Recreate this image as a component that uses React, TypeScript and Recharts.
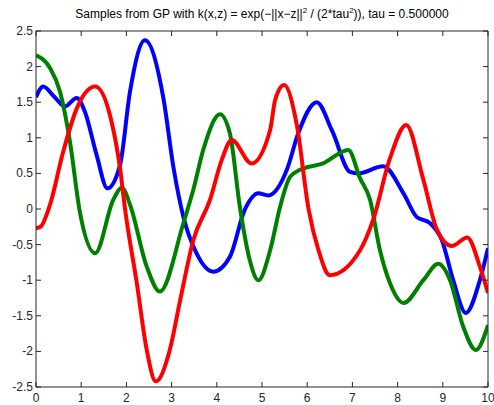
import React from 'react';
import { LineChart, Line, XAxis, YAxis } from 'recharts';

// sample paths (x, y)
const blueX = [0, 0.16, 0.4, 0.64, 0.9, 1.08, 1.34, 1.58, 1.86, 2.08, 2.41, 2.82, 3.04, 3.26, 3.55, 3.92, 4.29, 4.62, 4.92, 5.14, 5.55, 5.8, 6.21, 6.55, 6.95, 7.13, 7.68, 8.13, 8.42, 8.72, 8.98, 9.23, 9.51, 9.82, 10];
const blueY = [1.57, 1.72, 1.58, 1.44, 1.56, 1.37, 0.76, 0.29, 0.62, 1.65, 2.37, 1.55, 0.59, -0.11, -0.62, -0.88, -0.67, -0.01, 0.22, 0.19, 0.55, 1.06, 1.5, 1.1, 0.52, 0.5, 0.6, 0.22, -0.11, -0.2, -0.44, -1.0, -1.46, -1.0, -0.55];

const greenX = [0, 0.31, 0.53, 0.75, 0.97, 1.31, 1.71, 1.9, 2.08, 2.45, 2.74, 3.26, 3.48, 3.7, 4.07, 4.29, 4.51, 4.73, 4.92, 5.18, 5.4, 5.62, 5.84, 6.35, 6.91, 7.17, 7.39, 7.61, 7.83, 8.13, 8.57, 8.9, 9.16, 9.45, 9.73, 10];
const greenY = [2.16, 1.98, 1.65, 0.95, -0.04, -0.62, 0.13, 0.3, 0.06, -0.81, -1.16, -0.2, 0.27, 0.83, 1.33, 1.06, 0.03, -0.72, -1.0, -0.58, 0.03, 0.45, 0.55, 0.64, 0.83, 0.43, 0.13, -0.58, -1.04, -1.32, -1.0, -0.77, -1.0, -1.65, -1.98, -1.63];

const redX = [0, 0.1, 0.31, 0.6, 0.9, 1.31, 1.67, 1.86, 1.97, 2.23, 2.45, 2.65, 2.96, 3.19, 3.48, 3.85, 4.11, 4.33, 4.77, 5.18, 5.29, 5.49, 5.77, 6.03, 6.25, 6.5, 7.17, 7.46, 7.83, 8.19, 8.57, 8.87, 9.2, 9.54, 9.82, 10];
const redY = [-0.27, -0.25, 0.06, 0.8, 1.41, 1.72, 1.23, 0.57, 0.0, -1.04, -1.98, -2.42, -1.98, -1.28, -0.44, 0.13, 0.69, 0.97, 0.64, 1.11, 1.53, 1.74, 1.18, 0.0, -0.58, -0.93, -0.58, -0.15, 0.71, 1.18, 0.41, -0.29, -0.52, -0.4, -0.81, -1.18];

const xTicks = [0, 1, 2, 3, 4, 5, 6, 7, 8, 9, 10];
const yTicks = [-2.5, -2, -1.5, -1, -0.5, 0, 0.5, 1, 1.5, 2, 2.5];

const toPoints = (xs: number[], ys: number[]) => xs.map((x, i) => ({ x, y: ys[i] }));

const TICK = 5;
const AX = '#262626';
const FONT = '"Liberation Sans", Arial, sans-serif';

const BottomTick = (props: any) => {
  const { x, y, payload } = props;
  return (
    <g>
      <line x1={x} x2={x} y1={y} y2={y - TICK} stroke={AX} />
      <text x={x} y={y + 14.5} textAnchor="middle" fontSize={12} fill={AX} fontFamily={FONT}>
        {payload.value}
      </text>
    </g>
  );
};

const TopTick = (props: any) => {
  const { x, y } = props;
  return <line x1={x} x2={x} y1={y} y2={y + TICK} stroke={AX} />;
};

const LeftTick = (props: any) => {
  const { x, y, payload } = props;
  return (
    <g>
      <line x1={x} x2={x + TICK} y1={y} y2={y} stroke={AX} />
      <text x={x - 3} y={y + 4} textAnchor="end" fontSize={12} fill={AX} fontFamily={FONT}>
        {payload.value}
      </text>
    </g>
  );
};

const RightTick = (props: any) => {
  const { x, y } = props;
  return <line x1={x} x2={x - TICK} y1={y} y2={y} stroke={AX} />;
};

export default function App() {
  return (
    <div style={{ position: 'absolute', left: 0, top: 0, width: 494, height: 405, background: '#fff' }}>
      <div
        style={{
          position: 'absolute',
          left: 36,
          width: 452,
          top: 7,
          textAlign: 'center',
          fontFamily: FONT,
          fontSize: 12,
          lineHeight: '14px',
          color: '#000',
          whiteSpace: 'nowrap',
        }}
      >
        Samples from GP with k(x,z) = exp(−||x−z||<sup style={{ fontSize: 8, lineHeight: 0 }}>2</sup> / (2*tau<sup style={{ fontSize: 8, lineHeight: 0 }}>2</sup>)), tau = 0.500000
      </div>
      <LineChart width={494} height={405} margin={{ top: 30, right: 5, bottom: 0, left: 0 }}>
        <XAxis
          dataKey="x"
          type="number"
          domain={[0, 10]}
          ticks={xTicks}
          allowDataOverflow
          height={18}
          tickSize={0}
          tickMargin={0}
          tickLine={false}
          axisLine={{ stroke: AX }}
          tick={BottomTick}
          interval={0}
        />
        <XAxis
          xAxisId="top"
          orientation="top"
          dataKey="x"
          type="number"
          domain={[0, 10]}
          ticks={xTicks}
          allowDataOverflow
          height={1}
          tickSize={0}
          tickMargin={0}
          tickLine={false}
          axisLine={{ stroke: AX }}
          tick={TopTick}
          interval={0}
        />
        <YAxis
          type="number"
          domain={[-2.5, 2.5]}
          ticks={yTicks}
          allowDataOverflow
          width={36}
          tickSize={0}
          tickMargin={0}
          tickLine={false}
          axisLine={{ stroke: AX }}
          tick={LeftTick}
          interval={0}
        />
        <YAxis
          yAxisId="right"
          orientation="right"
          type="number"
          domain={[-2.5, 2.5]}
          ticks={yTicks}
          allowDataOverflow
          width={1}
          tickSize={0}
          tickMargin={0}
          tickLine={false}
          axisLine={{ stroke: AX }}
          tick={RightTick}
          interval={0}
        />
        <Line data={toPoints(blueX, blueY)} dataKey="y" type="monotone" stroke="#0000ff" strokeWidth={4} dot={false} isAnimationActive={false} />
        <Line data={toPoints(greenX, greenY)} dataKey="y" type="monotone" stroke="#008000" strokeWidth={4} dot={false} isAnimationActive={false} />
        <Line data={toPoints(redX, redY)} dataKey="y" type="monotone" stroke="#ff0000" strokeWidth={4} dot={false} isAnimationActive={false} />
      </LineChart>
    </div>
  );
}
